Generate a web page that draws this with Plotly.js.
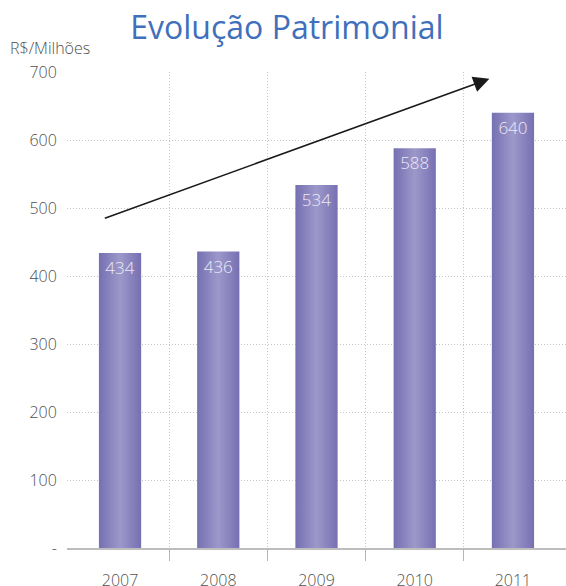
<!DOCTYPE html>
<html>
<head>
<meta charset="utf-8">
<script src="https://cdn.plot.ly/plotly-3.0.1.min.js"></script>
<style>
  html, body { margin: 0; padding: 0; background: #ffffff; }
  #chart { width: 566px; height: 586px; }
</style>
</head>
<body>
<div id="chart"></div>
<script>
// ---- data ----
const years = ["2007", "2008", "2009", "2010", "2011"];
const values = [434, 436, 534, 588, 640];
const valueLabels = ["434", "436", "534", "588", "640"];
const yTickVals = [0, 100, 200, 300, 400, 500, 600, 700];
const yTickText = ["-", "100", "200", "300", "400", "500", "600", "700"];
const titleText = "Evolução Patrimonial";
const unitText = "R$/Milhões";
// trend arrow (data coordinates: start -> end)
const arrowStart = { x: -0.17, y: 484 };
const arrowEnd = { x: 3.76, y: 690 };

const positions = years.map((_, i) => i);
const boundaries = years.slice(1).map((_, i) => i + 0.5);
const xRange = [-0.54, years.length - 1 + 0.54];

const FONT = '"Open Sans", "Segoe UI", sans-serif';
const TXT = '#505050';
const GRID = '#c4c4c4';
const DOTS = '1px,2px';

const traces = [
  {
    type: 'bar',
    x: positions,
    y: values,
    text: valueLabels,
    textposition: 'inside',
    insidetextanchor: 'end',
    textangle: 0,
    textfont: { family: FONT, size: 17, color: '#ece9f7', weight: 300 },
    width: 0.43,
    marker: { color: '#8a84c0', line: { width: 0 } },
    hoverinfo: 'skip',
    cliponaxis: false
  },
  {
    // invisible helper trace so the boundary axis (ticks + vertical grid) is drawn
    type: 'scatter',
    x: boundaries,
    y: boundaries.map(() => null),
    xaxis: 'x2',
    yaxis: 'y',
    mode: 'none',
    hoverinfo: 'skip',
    showlegend: false
  }
];

const layout = {
  width: 566,
  height: 586,
  margin: { l: 67, r: 0, t: 72, b: 38, pad: 0 },
  paper_bgcolor: '#ffffff',
  plot_bgcolor: '#ffffff',
  showlegend: false,
  font: { family: FONT, color: TXT },
  title: {
    text: titleText,
    font: { family: FONT, size: 32, color: '#4070bb' },
    x: 0.507, xref: 'container', xanchor: 'center',
    y: 0.952, yref: 'container', yanchor: 'middle'
  },
  xaxis: {
    range: xRange,
    tickmode: 'array',
    tickvals: positions,
    ticktext: years,
    ticks: 'outside',
    ticklen: 17,
    tickcolor: 'rgba(0,0,0,0)',
    tickfont: { family: FONT, size: 16, color: TXT, weight: 300 },
    showgrid: false,
    zeroline: false,
    showline: true,
    linecolor: '#bdbdbd',
    linewidth: 1.5,
    fixedrange: true
  },
  xaxis2: {
    overlaying: 'x',
    anchor: 'y',
    side: 'bottom',
    range: xRange,
    tickmode: 'array',
    tickvals: boundaries,
    ticktext: boundaries.map(() => ''),
    ticks: 'outside',
    ticklen: 12,
    tickwidth: 1,
    tickcolor: '#b5b5b5',
    showgrid: true,
    gridcolor: GRID,
    griddash: DOTS,
    gridwidth: 1,
    zeroline: false,
    showline: false,
    fixedrange: true
  },
  yaxis: {
    range: [0, 700],
    tickmode: 'array',
    tickvals: yTickVals,
    ticktext: yTickText,
    ticks: 'outside',
    ticklen: 6,
    tickcolor: 'rgba(0,0,0,0)',
    tickfont: { family: FONT, size: 16, color: TXT, weight: 300 },
    showgrid: true,
    gridcolor: GRID,
    griddash: DOTS,
    gridwidth: 1,
    zeroline: false,
    showline: false,
    fixedrange: true
  },
  annotations: [
    {
      text: unitText,
      xref: 'paper', yref: 'paper',
      x: -0.118, y: 1.05,
      xanchor: 'left', yanchor: 'middle',
      showarrow: false,
      font: { family: FONT, size: 16, color: TXT, weight: 300 }
    },
    {
      text: '',
      xref: 'x', yref: 'y', axref: 'x', ayref: 'y',
      x: arrowEnd.x, y: arrowEnd.y,
      ax: arrowStart.x, ay: arrowStart.y,
      showarrow: true,
      arrowhead: 2,
      arrowsize: 2,
      arrowwidth: 1.6,
      arrowcolor: '#1a1a1a',
      standoff: 0
    }
  ]
};

Plotly.newPlot('chart', traces, layout, { displayModeBar: false, staticPlot: true }).then(function (gd) {
  const svg = gd.querySelector('svg.main-svg');
  const NS = 'http://www.w3.org/2000/svg';
  let defs = svg.querySelector('defs');
  if (!defs) { defs = document.createElementNS(NS, 'defs'); svg.insertBefore(defs, svg.firstChild); }
  const grad = document.createElementNS(NS, 'linearGradient');
  grad.setAttribute('id', 'barGrad');
  grad.setAttribute('x1', '0'); grad.setAttribute('y1', '0');
  grad.setAttribute('x2', '1'); grad.setAttribute('y2', '0');
  [['0%', '#7570b1'], ['50%', '#9d98ca'], ['100%', '#7670b2']].forEach(function (s) {
    const st = document.createElementNS(NS, 'stop');
    st.setAttribute('offset', s[0]);
    st.setAttribute('stop-color', s[1]);
    grad.appendChild(st);
  });
  defs.appendChild(grad);
  gd.querySelectorAll('.bars .point path').forEach(function (p) {
    p.style.fill = 'url(#barGrad)';
  });
});
</script>
</body>
</html>
